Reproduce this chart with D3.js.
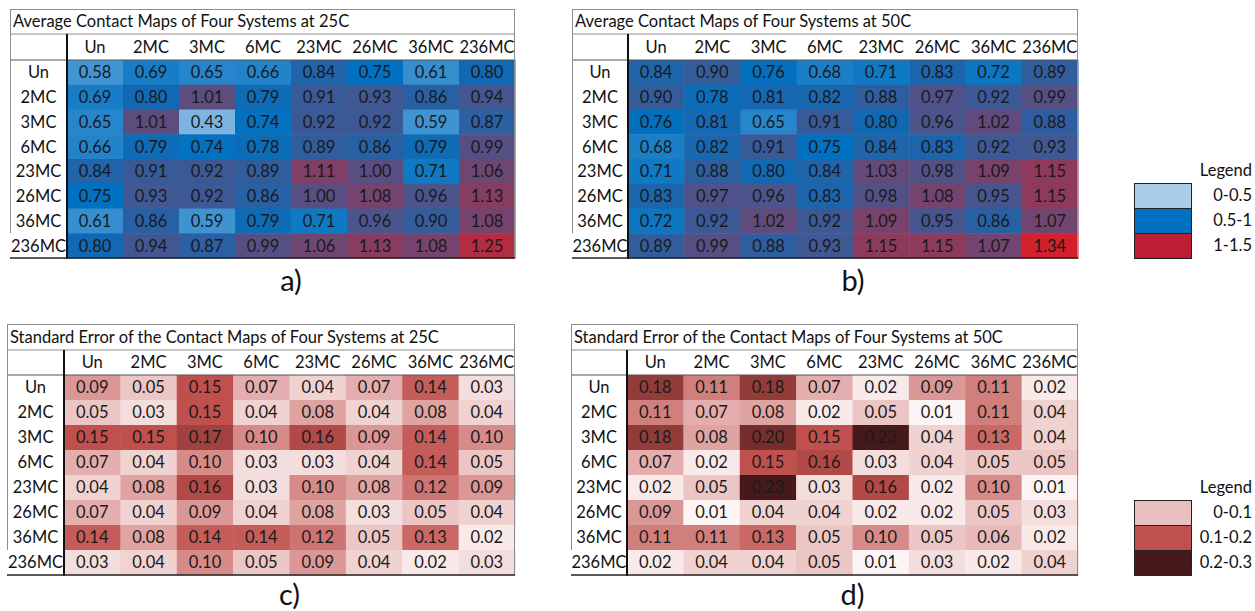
<!DOCTYPE html>
<html>
<head>
<meta charset="utf-8">
<script src="https://cdn.jsdelivr.net/npm/d3@7"></script>
<style>
  html, body { margin: 0; padding: 0; background: #fff; }
  svg { display: block; }
  text { font-family: Lato, "Open Sans", sans-serif; fill: #111; }
</style>
</head>
<body>
<svg id="chart" width="1255" height="611"></svg>
<script>
// ---------- data ----------
const systems = ["Un", "2MC", "3MC", "6MC", "23MC", "26MC", "36MC", "236MC"];

const titles = [
  "Average Contact Maps of Four Systems at 25C",
  "Average Contact Maps of Four Systems at 50C",
  "Standard Error of the Contact Maps of Four Systems at 25C",
  "Standard Error of the Contact Maps of Four Systems at 50C"
];
const captions = ["a)", "b)", "c)", "d)"];

const avg25 = [
  [0.58, 0.69, 0.65, 0.66, 0.84, 0.75, 0.61, 0.80],
  [0.69, 0.80, 1.01, 0.79, 0.91, 0.93, 0.86, 0.94],
  [0.65, 1.01, 0.43, 0.74, 0.92, 0.92, 0.59, 0.87],
  [0.66, 0.79, 0.74, 0.78, 0.89, 0.86, 0.79, 0.99],
  [0.84, 0.91, 0.92, 0.89, 1.11, 1.00, 0.71, 1.06],
  [0.75, 0.93, 0.92, 0.86, 1.00, 1.08, 0.96, 1.13],
  [0.61, 0.86, 0.59, 0.79, 0.71, 0.96, 0.90, 1.08],
  [0.80, 0.94, 0.87, 0.99, 1.06, 1.13, 1.08, 1.25]
];
const avg50 = [
  [0.84, 0.90, 0.76, 0.68, 0.71, 0.83, 0.72, 0.89],
  [0.90, 0.78, 0.81, 0.82, 0.88, 0.97, 0.92, 0.99],
  [0.76, 0.81, 0.65, 0.91, 0.80, 0.96, 1.02, 0.88],
  [0.68, 0.82, 0.91, 0.75, 0.84, 0.83, 0.92, 0.93],
  [0.71, 0.88, 0.80, 0.84, 1.03, 0.98, 1.09, 1.15],
  [0.83, 0.97, 0.96, 0.83, 0.98, 1.08, 0.95, 1.15],
  [0.72, 0.92, 1.02, 0.92, 1.09, 0.95, 0.86, 1.07],
  [0.89, 0.99, 0.88, 0.93, 1.15, 1.15, 1.07, 1.34]
];
const se25 = [
  [0.09, 0.05, 0.15, 0.07, 0.04, 0.07, 0.14, 0.03],
  [0.05, 0.03, 0.15, 0.04, 0.08, 0.04, 0.08, 0.04],
  [0.15, 0.15, 0.17, 0.10, 0.16, 0.09, 0.14, 0.10],
  [0.07, 0.04, 0.10, 0.03, 0.03, 0.04, 0.14, 0.05],
  [0.04, 0.08, 0.16, 0.03, 0.10, 0.08, 0.12, 0.09],
  [0.07, 0.04, 0.09, 0.04, 0.08, 0.03, 0.05, 0.04],
  [0.14, 0.08, 0.14, 0.14, 0.12, 0.05, 0.13, 0.02],
  [0.03, 0.04, 0.10, 0.05, 0.09, 0.04, 0.02, 0.03]
];
const se50 = [
  [0.18, 0.11, 0.18, 0.07, 0.02, 0.09, 0.11, 0.02],
  [0.11, 0.07, 0.08, 0.02, 0.05, 0.01, 0.11, 0.04],
  [0.18, 0.08, 0.20, 0.15, 0.23, 0.04, 0.13, 0.04],
  [0.07, 0.02, 0.15, 0.16, 0.03, 0.04, 0.05, 0.05],
  [0.02, 0.05, 0.23, 0.03, 0.16, 0.02, 0.10, 0.01],
  [0.09, 0.01, 0.04, 0.04, 0.02, 0.02, 0.05, 0.03],
  [0.11, 0.11, 0.13, 0.05, 0.10, 0.05, 0.06, 0.02],
  [0.02, 0.04, 0.04, 0.05, 0.01, 0.03, 0.02, 0.04]
];

const avgLegendLabels = ["0-0.5", "0.5-1", "1-1.5"];
const seLegendLabels = ["0-0.1", "0.1-0.2", "0.2-0.3"];
const avgLegendColors = ["#a9cce9", "#0070c0", "#be1e34"];
const seLegendColors = ["#e8c0c0", "#c0504d", "#461a1a"];

// ---------- colour scales ----------
const avgColor = d3.scaleLinear()
  .domain([0.43, 0.75, 1.34])
  .range(["#7db5e2", "#0070c0", "#d2202c"])
  .interpolate(d3.interpolateRgb);
const seColor = d3.scaleLinear()
  .domain([0.01, 0.15, 0.23])
  .range(["#fdf5f5", "#c0504d", "#461a1a"])
  .interpolate(d3.interpolateRgb);

// ---------- layout ----------
const panels = [
  { data: avg25, color: avgColor, x0: 10,  xL: 67,  x1: 515,  y0: 9,   yT: 34,  yH: 60,  y1: 258, capY: 291 },
  { data: avg50, color: avgColor, x0: 572, xL: 628, x1: 1078, y0: 9,   yT: 34,  yH: 60,  y1: 258, capY: 291 },
  { data: se25,  color: seColor,  x0: 7,   xL: 64,  x1: 515,  y0: 324, yT: 350, yH: 375, y1: 575, capY: 605 },
  { data: se50,  color: seColor,  x0: 571, xL: 627, x1: 1078, y0: 324, yT: 350, yH: 375, y1: 575, capY: 605 }
];

const svg = d3.select("#chart");

panels.forEach((p, i) => {
  const g = svg.append("g");
  const x = d3.scaleBand().domain(systems).range([p.xL, p.x1]);
  const y = d3.scaleBand().domain(systems).range([p.yH, p.y1]);

  // background white
  g.append("rect").attr("x", p.x0).attr("y", p.y0)
    .attr("width", p.x1 - p.x0).attr("height", p.y1 - p.y0).attr("fill", "#fff");

  // cells
  const cells = [];
  p.data.forEach((row, r) => row.forEach((v, c) => cells.push({ r: systems[r], c: systems[c], v })));
  g.selectAll("rect.cell").data(cells).enter().append("rect")
    .attr("class", "cell")
    .attr("x", d => x(d.c)).attr("y", d => y(d.r))
    .attr("width", x.bandwidth() + 0.5).attr("height", y.bandwidth() + 0.5)
    .attr("fill", d => p.color(d.v));
  g.selectAll("text.val").data(cells).enter().append("text")
    .attr("class", "val")
    .attr("x", d => x(d.c) + x.bandwidth() / 2)
    .attr("y", d => y(d.r) + y.bandwidth() / 2)
    .attr("dy", "0.36em")
    .attr("text-anchor", "middle")
    .attr("font-size", 16.5)
    .style("fill", "#1a1a1a")
    .text(d => d.v.toFixed(2));

  // header labels
  g.selectAll("text.col").data(systems).enter().append("text")
    .attr("x", d => x(d) + x.bandwidth() / 2)
    .attr("y", (p.yT + p.yH) / 2).attr("dy", "0.36em")
    .attr("text-anchor", "middle").attr("font-size", 16.5)
    .text(d => d);
  // row labels
  g.selectAll("text.row").data(systems).enter().append("text")
    .attr("x", (p.x0 + p.xL) / 2)
    .attr("y", d => y(d) + y.bandwidth() / 2).attr("dy", "0.36em")
    .attr("text-anchor", "middle").attr("font-size", 16.5)
    .text(d => d);

  // title
  g.append("text").attr("x", p.x0 + 3).attr("y", (p.y0 + p.yT) / 2).attr("dy", "0.36em")
    .attr("font-size", 16.5).text(titles[i]);

  // borders
  const gray = "#8c8c8c";
  const line = (x1, y1, x2, y2, col, w) => g.append("line")
    .attr("x1", x1).attr("y1", y1).attr("x2", x2).attr("y2", y2)
    .attr("stroke", col).attr("stroke-width", w);
  line(p.x0, p.y0 + 0.5, p.x1, p.y0 + 0.5, gray, 1);
  line(p.x0, p.yT, p.x1, p.yT, gray, 1);
  line(p.x0, p.yH, p.x1, p.yH, "#555", 1);
  line(p.x0 + 0.5, p.y0, p.x0 + 0.5, y(systems[7]), gray, 1);
  line(p.x1 - 0.5, p.y0, p.x1 - 0.5, p.y1, gray, 1);
  line(p.xL, p.yT, p.xL, p.y1 + 1, "#111", 2);
  line(p.x0, p.y1, p.x1, p.y1, "#222", 1.5);

  // caption
  g.append("text").attr("x", (p.xL + p.x1) / 2).attr("y", p.capY)
    .attr("text-anchor", "middle").attr("font-size", 29)
    .text(captions[i]);
});

// ---------- legends ----------
function legend(labels, colors, top) {
  const g = svg.append("g");
  const yL = d3.scaleBand().domain(labels).range([top, top + 75]);
  g.append("text").attr("x", 1252).attr("y", top - 7).attr("text-anchor", "end")
    .attr("font-size", 16.5).text("Legend");
  g.selectAll("rect").data(labels).enter().append("rect")
    .attr("x", 1134.5).attr("y", d => yL(d) + 0.5)
    .attr("width", 57).attr("height", yL.bandwidth())
    .attr("fill", (d, i) => colors[i]).attr("stroke", "#222").attr("stroke-width", 1);
  g.selectAll("text.lab").data(labels).enter().append("text")
    .attr("x", 1252).attr("y", d => yL(d) + yL.bandwidth() / 2).attr("dy", "0.36em")
    .attr("text-anchor", "end").attr("font-size", 16.5).text(d => d);
}
legend(avgLegendLabels, avgLegendColors, 183);
legend(seLegendLabels, seLegendColors, 500);
</script>
</body>
</html>
